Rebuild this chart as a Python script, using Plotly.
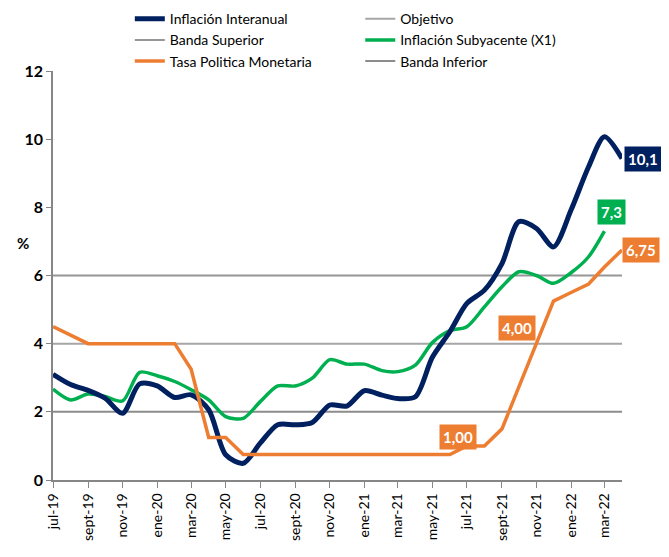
import plotly.graph_objects as go

# monthly observations, jul-2019 .. apr-2022
months = [
    "2019-07", "2019-08", "2019-09", "2019-10", "2019-11", "2019-12",
    "2020-01", "2020-02", "2020-03", "2020-04", "2020-05", "2020-06",
    "2020-07", "2020-08", "2020-09", "2020-10", "2020-11", "2020-12",
    "2021-01", "2021-02", "2021-03", "2021-04", "2021-05", "2021-06",
    "2021-07", "2021-08", "2021-09", "2021-10", "2021-11", "2021-12",
    "2022-01", "2022-02", "2022-03", "2022-04",
]

inflacion_interanual = [
    3.10, 2.80, 2.63, 2.40, 1.96, 2.82,
    2.76, 2.42, 2.50, 2.06, 0.74, 0.49,
    1.08, 1.62, 1.62, 1.69, 2.20, 2.17,
    2.62, 2.49, 2.39, 2.44, 3.60, 4.35,
    5.18, 5.57, 6.35, 7.58, 7.38, 6.84,
    7.92, 9.19, 10.07, 9.43,
]

inflacion_subyacente = [
    2.67, 2.35, 2.52, 2.45, 2.32, 3.16,
    3.06, 2.89, 2.65, 2.35, 1.86, 1.81,
    2.30, 2.76, 2.76, 2.99, 3.53, 3.40,
    3.40, 3.21, 3.18, 3.37, 4.03, 4.38,
    4.50, 5.08, 5.67, 6.11, 6.00, 5.77,
    6.08, 6.55, 7.30, None,
]

tasa_politica = [
    4.50, 4.25, 4.00, 4.00, 4.00, 4.00,
    4.00, 4.00, 3.25, 1.25, 1.25, 0.75,
    0.75, 0.75, 0.75, 0.75, 0.75, 0.75,
    0.75, 0.75, 0.75, 0.75, 0.75, 0.75,
    1.00, 1.00, 1.50, 2.75, 4.00, 5.25,
    5.50, 5.75, 6.25, 6.75,
]

objetivo = 4.0
banda_superior = 6.0
banda_inferior = 2.0

tick_months = months[::2]
tick_labels = [
    "jul-19", "sept-19", "nov-19", "ene-20", "mar-20", "may-20", "jul-20",
    "sept-20", "nov-20", "ene-21", "mar-21", "may-21", "jul-21", "sept-21",
    "nov-21", "ene-22", "mar-22",
]

# data labels: month, level, text, series colour, horizontal shift
label_months = ["2022-04", "2022-03", "2022-04", "2021-10", "2021-07"]
label_levels = [9.41, 7.86, 6.74, 4.46, 1.25]
label_texts = ["10,1", "7,3", "6,75", "4,00", "1,00"]
label_series = ["navy", "green", "orange", "orange", "orange"]
label_shift = [21, 7, 19, -2, -9]

NAVY = "#002060"
GREEN = "#00B050"
ORANGE = "#ED7D31"
colors = {"navy": NAVY, "green": GREEN, "orange": ORANGE}

FONT = "Lato, Carlito, Calibri, sans-serif"

fig = go.Figure()

# reference bands first so the data lines sit on top
fig.add_trace(go.Scatter(
    x=months, y=[objetivo] * len(months), mode="lines",
    line=dict(color="#A6A6A6", width=2),
    name="Objetivo", legend="legend2", legendrank=1,
))
fig.add_trace(go.Scatter(
    x=months, y=[banda_superior] * len(months), mode="lines",
    line=dict(color="#969696", width=2),
    name="Banda Superior", legend="legend", legendrank=2,
))
fig.add_trace(go.Scatter(
    x=months, y=[banda_inferior] * len(months), mode="lines",
    line=dict(color="#8C8C8C", width=2),
    name="Banda Inferior", legend="legend2", legendrank=3,
))

fig.add_trace(go.Scatter(
    x=months, y=inflacion_subyacente, mode="lines",
    line=dict(color=GREEN, width=3.5, shape="spline", smoothing=0.8),
    name="Inflación Subyacente (X1)", legend="legend2", legendrank=2,
))
fig.add_trace(go.Scatter(
    x=months, y=inflacion_interanual, mode="lines",
    line=dict(color=NAVY, width=5, shape="spline", smoothing=0.8),
    name="Inflación Interanual", legend="legend", legendrank=1,
))
fig.add_trace(go.Scatter(
    x=months, y=tasa_politica, mode="lines",
    line=dict(color=ORANGE, width=3.5),
    name="Tasa Politica Monetaria", legend="legend", legendrank=3,
))

for m, v, t, s, dx in zip(label_months, label_levels, label_texts, label_series, label_shift):
    fig.add_annotation(
        x=m, y=v, xref="x", yref="y", text=f"<b>{t}</b>", showarrow=False,
        xshift=dx, bgcolor=colors[s], borderpad=3,
        font=dict(family=FONT, size=15, color="white"),
    )

fig.add_annotation(
    x=-0.067, y=0.579, xref="paper", yref="paper", text="<b>%</b>",
    showarrow=False, font=dict(family=FONT, size=15, color="black"),
)

legend_style = dict(
    orientation="v", xanchor="left", yanchor="top",
    xref="paper", yref="paper", y=1.166,
    bgcolor="rgba(0,0,0,0)", font=dict(family=FONT, size=14, color="black"),
    tracegroupgap=0, itemwidth=30,
)

# the page has an 8px body margin, so the figure is kept inside the window
fig.update_layout(
    width=653, height=541,
    margin=dict(l=45, r=39, t=63, b=69, autoexpand=False),
    plot_bgcolor="white", paper_bgcolor="white",
    font=dict(family=FONT, color="black"),
    showlegend=True,
    legend=dict(x=0.135, **legend_style),
    legend2=dict(x=0.54, **legend_style),
    xaxis=dict(
        type="date", range=["2019-07-01", "2022-04-01"],
        tickvals=tick_months, ticktext=tick_labels, tickangle=-90,
        tickfont=dict(family=FONT, size=14, color="black"),
        showline=True, linecolor="#868686", linewidth=1.5,
        ticks="outside", ticklen=6, tickcolor="#868686",
        showgrid=False, zeroline=False,
    ),
    yaxis=dict(
        range=[0, 12], tickvals=[0, 2, 4, 6, 8, 10, 12],
        tickfont=dict(family=FONT, size=16, color="black", weight="bold"),
        showline=True, linecolor="#868686", linewidth=1.5,
        ticks="outside", ticklen=5, tickcolor="#868686",
        showgrid=False, zeroline=False,
    ),
)

fig.write_html("out.html")
